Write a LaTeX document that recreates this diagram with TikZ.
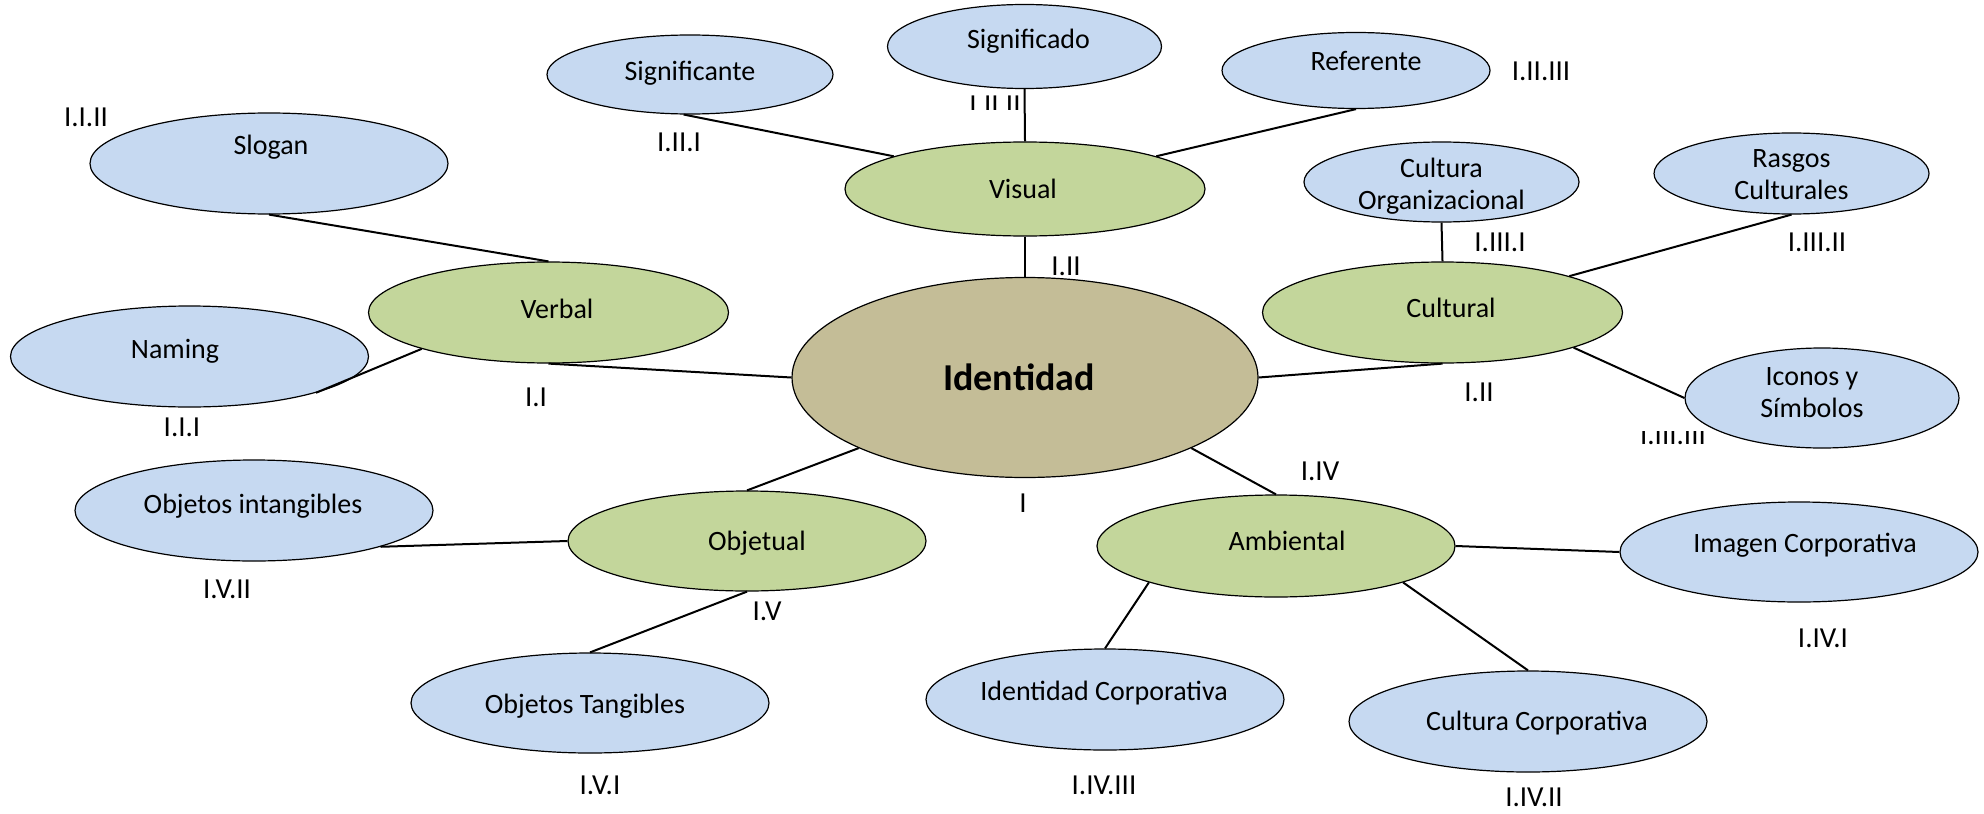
\documentclass[tikz,border=0pt]{standalone}
\usepackage{fontspec}
\setmainfont{Carlito}
\usetikzlibrary{shapes.geometric}
\definecolor{leafblue}{HTML}{C6D9F1}
\definecolor{midgreen}{HTML}{C3D69B}
\definecolor{roottan}{HTML}{C4BD97}
\begin{document}
\begin{tikzpicture}[x=0.5pt,y=-0.5pt,
  oval/.style={ellipse, draw=black, line width=0.6pt, inner sep=0pt},
  leaf/.style={oval, fill=leafblue},
  mid/.style={oval, fill=midgreen},
  txt/.style={font=\fontsize{14}{16}\selectfont, align=center, inner sep=0pt},
  lab/.style={font=\fontsize{14.5}{16}\selectfont, inner sep=0pt},
  link/.style={line width=1pt}]
\useasboundingbox (0,0) rectangle (1984,813);

% clipped label under Significado (drawn first)
\begin{scope}
  \clip (940,90) rectangle (1040,109.5);
  \node[lab] (l12) at (995,105.2) {I.II.II};
\end{scope}

% root
\node[oval, fill=roottan, minimum width=233pt, minimum height=100pt,
  label={[font=\fontsize{19}{22}\selectfont\bfseries, inner sep=0pt, shift={(-6,0)}]center:Identidad}] (iden) at (1025,377.5) {};

% second level
\node[mid, minimum width=180pt, minimum height=47pt,
  label={[txt,shift={(-2,0)}]center:Visual}] (vis) at (1025,189) {};
\node[mid, minimum width=180pt, minimum height=50.5pt,
  label={[txt,shift={(8.5,-3.5)}]center:Verbal}] (ver) at (548.5,312.5) {};
\node[mid, minimum width=180pt, minimum height=50.5pt,
  label={[txt,shift={(8.5,-5)}]center:Cultural}] (cult) at (1442.5,312.5) {};
\node[mid, minimum width=179pt, minimum height=50pt,
  label={[txt,shift={(10,2)}]center:Objetual}] (obj) at (747,541) {};
\node[mid, minimum width=179pt, minimum height=51pt,
  label={[txt,shift={(11,-5)}]center:Ambiental}] (amb) at (1276,546) {};

% leaves
\node[leaf, minimum width=137pt, minimum height=42pt,
  label={[txt,shift={(4,-5)}]center:Significado}] (sigd) at (1024.5,46.5) {};
\node[leaf, minimum width=134pt, minimum height=38pt,
  label={[txt,shift={(10,-9.5)}]center:Referente}] (ref) at (1356,70.5) {};
\node[leaf, minimum width=143pt, minimum height=39.5pt,
  label={[txt,shift={(0,-1.5)}]center:Significante}] (sig) at (690,74.5) {};
\node[leaf, minimum width=179pt, minimum height=50.5pt,
  label={[txt,shift={(2,-16.5)}]center:Slogan}] (slo) at (269,163.5) {};
\node[leaf, minimum width=179pt, minimum height=50.5pt,
  label={[txt,shift={(-14.5,-5)}]center:Naming}] (nam) at (189.5,356.5) {};
\node[leaf, minimum width=137.5pt, minimum height=40pt,
  label={[txt,shift={(0,4)}]center:{Cultura\\Organizacional}}] (co) at (1441.5,182) {};
\node[leaf, minimum width=137.5pt, minimum height=40.5pt,
  label={[txt,shift={(0,1)}]center:{Rasgos\\Culturales}}] (ras) at (1791.5,173.5) {};
\node[leaf, minimum width=137pt, minimum height=50pt,
  label={[txt,shift={(-10,-5)}]center:{Iconos y\\Símbolos}}] (ico) at (1822,398) {};
\node[leaf, minimum width=179pt, minimum height=50.5pt,
  label={[txt,shift={(-1,-4)}]center:Objetos intangibles}] (oi) at (254,510.5) {};
\node[leaf, minimum width=179pt, minimum height=50pt,
  label={[txt,shift={(-5,3)}]center:Objetos Tangibles}] (ot) at (590,703) {};
\node[leaf, minimum width=179pt, minimum height=50pt,
  label={[txt,shift={(6,-7)}]center:Imagen Corporativa}] (img) at (1799,552) {};
\node[leaf, minimum width=179pt, minimum height=50.5pt,
  label={[txt,shift={(-1,-6.5)}]center:Identidad Corporativa}] (ic) at (1105,699.5) {};
\node[leaf, minimum width=179pt, minimum height=50.5pt,
  label={[txt,shift={(9,1.5)}]center:Cultura Corporativa}] (cc) at (1528,721.5) {};

% connectors
\draw[link] (sig.-99) -- (vis.166);
\draw[link] (sigd.south) -- (vis.north);
\draw[link] (vis.14) -- (ref.south);
\draw[link] (vis.south) -- (iden.north);
\draw[link] (slo.south) -- (ver.north);
\draw[link] (nam.-16) -- (ver.196);
\draw[link] (ver.south) -- (iden.west);
\draw[link] (cult.south) -- (iden.east);
\draw[link] (co.south) -- (cult.north);
\draw[link] (cult.16) -- (ras.south);
\draw[link] (cult.-15) -- (ico.west);
\draw[link] (iden.203) -- (obj.north);
\draw[link] (obj.west) -- (oi.-16);
\draw[link] (obj.south) -- (ot.north);
\draw[link] (iden.-23) -- (amb.north);
\draw[link] (amb.east) -- (img.west);
\draw[link] (amb.196) -- (ic.north);
\draw[link] (amb.-16) -- (cc.north);

% numbering labels
\node[lab] (l1) at (1541,71) {I.II.III};
\node[lab] (l2) at (679,142) {I.II.I};
\node[lab] (l3) at (86,117) {I.I.II};
\node[lab] (l4) at (182,427) {I.I.I};
\node[lab] (l5) at (536,397) {I.I};
\node[lab] (l6) at (1066,266) {I.II};
\node[lab] (l7) at (1500,242) {I.III.I};
\node[lab] (l8) at (1817,242) {I.III.II};
\node[lab] (l9) at (1479,392) {I.II};
\node[lab] (l10) at (1023,503) {I};
\node[lab] (l11) at (1320,471) {I.IV};
\node[lab] (l13) at (227,589) {I.V.II};
\node[lab] (l14) at (767,611) {I.V};
\node[lab] (l15) at (600,785) {I.V.I};
\node[lab] (l16) at (1823,638) {I.IV.I};
\node[lab] (l17) at (1104,785) {I.IV.III};
\node[lab] (l18) at (1534,797) {I.IV.II};
\begin{scope}
  \clip (1620,431) rectangle (1730,452);
  \node[lab] (l19) at (1673,434.9) {I.III.III};
\end{scope}
\end{tikzpicture}
\end{document}
